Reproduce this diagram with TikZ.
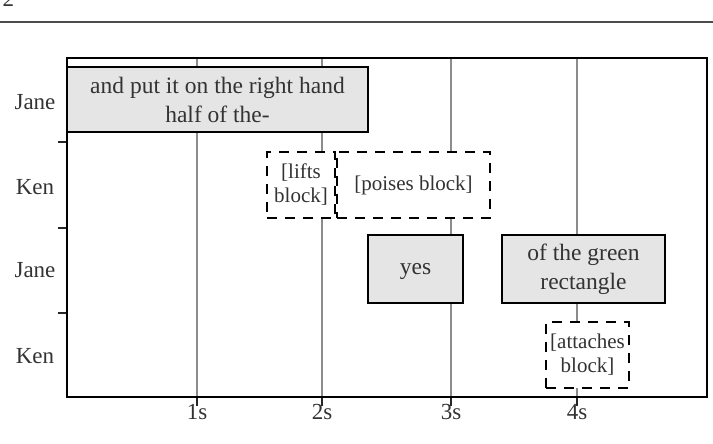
\documentclass[tikz,border=0pt]{standalone}
\usepackage{fontspec}
\setmainfont{Liberation Serif}
\begin{document}
\begin{tikzpicture}[x=1pt,y=-1pt,
  lbl/.style={font=\fontsize{23}{27}\selectfont, text=black!80},
  talk/.style={draw=black, line width=2.6pt, fill=black!10, align=center, inner sep=0pt,
    font=\fontsize{23.5}{29}\selectfont, text=black!80},
  act/.style={draw=black, line width=2.6pt, dash pattern=on 10pt off 8pt, fill=white, align=center, inner sep=0pt,
    font=\fontsize{21}{24}\selectfont, text=black!80},
  grid/.style={draw=black!45, line width=2.2pt},
  tick/.style={draw=black!85, line width=1.8pt}]
\useasboundingbox (0,0) rectangle (713,444);
% page header
\node[lbl, anchor=base west] (pg) at (-1,7) {2};
\draw[black!70, line width=1.8pt] (0,22) -- (713,22);
% frame
\coordinate (fTL) at (67,58);
\coordinate (fBR) at (707,397);
% grid lines
\foreach \x/\t in {197/1s,322/2s,451/3s,577/4s}{
  \coordinate (gt\t) at (\x,58);
  \coordinate (gb\t) at (\x,397);
  \coordinate (gk\t) at (\x,406);
  \draw[grid] (gt\t) -- (gb\t);
  \draw[tick] (gb\t) -- (gk\t);
  \node[lbl] (lab\t) at (\x,412) {\t};
}
% row ticks
\foreach \y/\n in {142/a,228/b,313/c}{
  \coordinate (r\n) at (67,\y);
  \coordinate (rk\n) at (58,\y);
  \draw[tick] (r\n) -- (rk\n);
}
% row labels
\node[lbl] (j1) at (35,102) {Jane};
\node[lbl] (k1) at (35,187) {Ken};
\node[lbl] (j2) at (35,270) {Jane};
\node[lbl] (k2) at (35,356) {Ken};
% boxes
\node[talk, minimum width=301pt, minimum height=65pt] (b1) at (217.5,99.5) {and put it on the right hand\\half of the-};
\node[act, minimum width=68pt, minimum height=66pt] (b2) at (301,185) {[lifts\\block]};
\node[act, minimum width=153pt, minimum height=66pt] (b3) at (413.5,185) {[poises block]};
\node[talk, minimum width=95pt, minimum height=68pt, text depth=0pt] (b4) at (415.5,269) {yes};
\node[talk, minimum width=163pt, minimum height=68pt] (b5) at (583.5,269) {of the green\\rectangle};
\node[act, minimum width=83pt, minimum height=66pt] (b6) at (587.5,355) {[attaches\\block]};
% frame border
\draw[black, line width=2.6pt] (fTL) rectangle (fBR);
\end{tikzpicture}
\end{document}
